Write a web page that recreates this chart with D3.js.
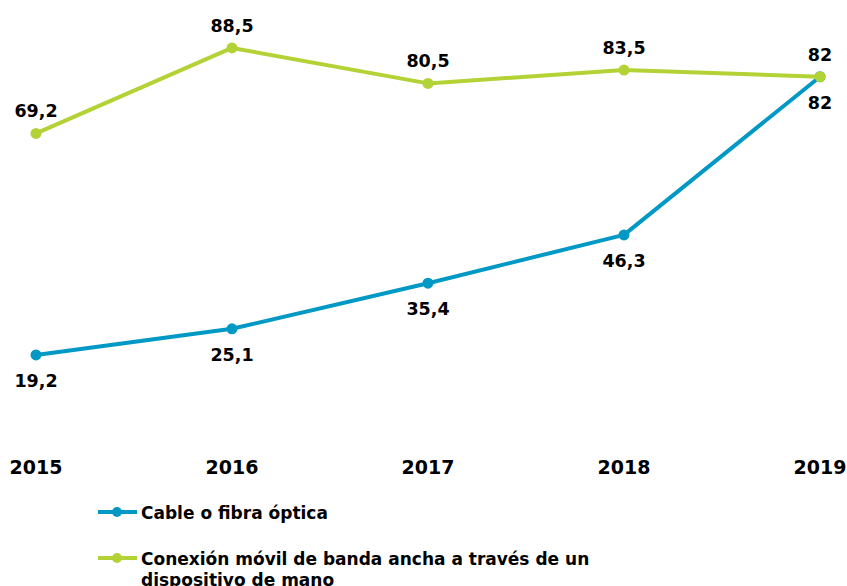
<!DOCTYPE html>
<html><head><meta charset="utf-8">
<script src="https://cdn.jsdelivr.net/npm/d3@7"></script>
<style>body{margin:0;background:#fff;overflow:hidden}svg{display:block}text{font-family:"DejaVu Sans",Verdana,sans-serif;font-weight:bold;fill:#000}</style>
</head><body><svg id="c" width="847" height="586"></svg>
<script>
const years = ["2015","2016","2017","2018","2019"];
const cable = [19.2, 25.1, 35.4, 46.3, 82];
const movil = [69.2, 88.5, 80.5, 83.5, 82];
const cableLabels = ["19,2","25,1","35,4","46,3","82"];
const movilLabels = ["69,2","88,5","80,5","83,5","82"];
const seriesNames = ["Cable o fibra óptica","Conexión móvil de banda ancha a través de un","dispositivo de mano"];

const svg = d3.select("#c");
const x = d3.scalePoint().domain(years).range([36, 820]);
const y = d3.scaleLinear().domain([0, 100]).range([440, -3]);
const blue = "#0099c5", green = "#b3d236";

const line = d3.line().x((d,i)=>x(years[i])).y(d=>y(d));
function drawSeries(vals, color, labels, dy) {
  svg.append("path").datum(vals).attr("d", line).attr("fill","none")
    .attr("stroke", color).attr("stroke-width", 4).attr("stroke-linejoin","round");
  svg.selectAll(null).data(vals).enter().append("circle")
    .attr("cx",(d,i)=>x(years[i])).attr("cy",d=>y(d)).attr("r",5.5).attr("fill",color);
  svg.selectAll(null).data(vals).enter().append("text")
    .attr("x",(d,i)=>x(years[i])).attr("y",d=>y(d)+dy).attr("text-anchor","middle")
    .attr("font-size",17.5).text((d,i)=>labels[i]);
}
drawSeries(cable, blue, cableLabels, 32);
drawSeries(movil, green, movilLabels, -16);

// x axis labels
const xa = svg.append("g").attr("transform","translate(0,474)");
xa.selectAll("text").data(years).enter().append("text")
  .attr("x",d=>x(d)).attr("text-anchor","middle").attr("font-size",19).text(d=>d);

// legend
function legendItem(yy, color) {
  svg.append("line").attr("x1",98).attr("x2",137).attr("y1",yy).attr("y2",yy)
    .attr("stroke",color).attr("stroke-width",4);
  svg.append("circle").attr("cx",117).attr("cy",yy).attr("r",5).attr("fill",color);
}
legendItem(512, blue);
svg.append("text").attr("x",141).attr("y",519).attr("font-size",17).text(seriesNames[0]);
legendItem(558, green);
svg.append("text").attr("x",141).attr("y",565).attr("font-size",17).text(seriesNames[1]);
svg.append("text").attr("x",141).attr("y",586).attr("font-size",17).text(seriesNames[2]);
</script></body></html>
